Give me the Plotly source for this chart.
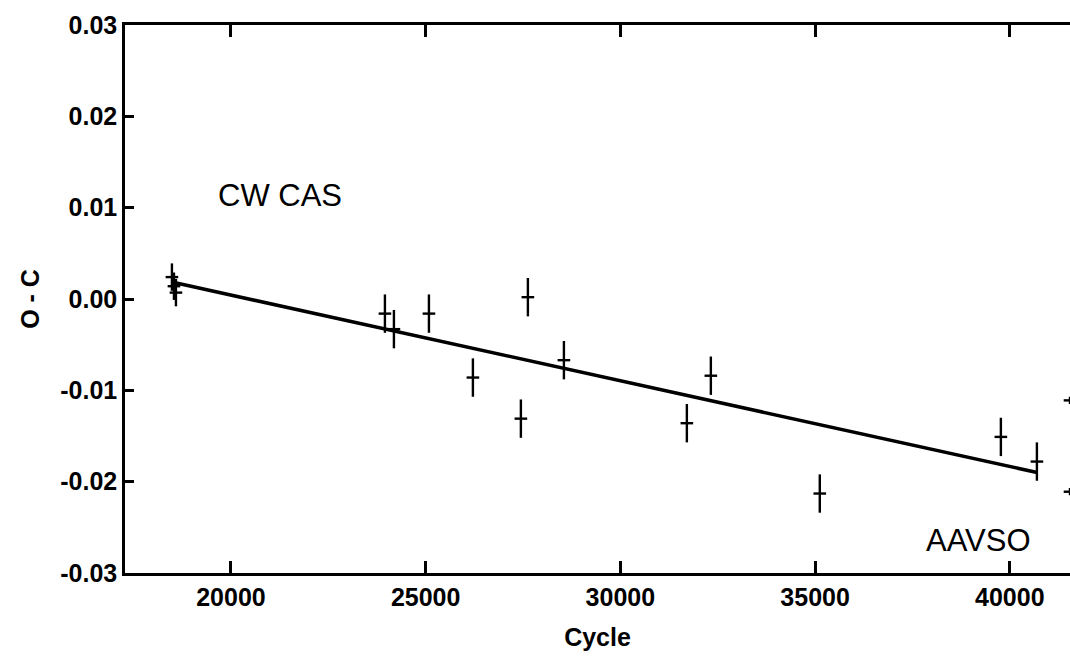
import plotly.graph_objects as go

# Data
cycle = [18485, 18537, 18588, 23954, 24185, 25084, 26213, 27445, 27625, 28550,
         31707, 32323, 35120, 39770, 40695, 41545, 41545]
o_c = [0.0024, 0.0014, 0.0007, -0.0016, -0.0033, -0.0016, -0.0086, -0.0131,
       0.0002, -0.0067, -0.0136, -0.0084, -0.0213, -0.0151, -0.0178, -0.0111, -0.0211]
err = [0.0015, 0.0015, 0.0015, 0.0021, 0.0021, 0.0021, 0.0021, 0.0021,
       0.0021, 0.0021, 0.0021, 0.0021, 0.0021, 0.0021, 0.0021, 0.0004, 0.0004]

fit_x = [18540, 40700]
fit_y = [0.0018, -0.0190]

x_ticks = [20000, 25000, 30000, 35000, 40000]
y_ticks = [-0.03, -0.02, -0.01, 0.0, 0.01, 0.02, 0.03]
y_labels = ["-0.03", "-0.02", "-0.01", "0.00", "0.01", "0.02", "0.03"]

L, R, T, B = 125, 0, 25, 87
W, H = 1070, 660
pw, ph = W - L - R, H - T - B

fig = go.Figure()
fig.add_trace(go.Scatter(x=fit_x, y=fit_y, mode="lines",
                         line=dict(color="black", width=3.5), showlegend=False))
fig.add_trace(go.Scatter(
    x=cycle, y=o_c, mode="markers",
    marker=dict(symbol="line-ew", size=9, line=dict(color="black", width=2.4)),
    error_y=dict(type="data", array=err, visible=True, color="black",
                 thickness=2.4, width=0),
    showlegend=False))

annfont = dict(family="Liberation Sans", size=31, color="black")
for txt, px, py in [("CW CAS", 280, 195), ("AAVSO", 978, 540)]:
    fig.add_annotation(x=(px - L) / pw, y=1 - (py - T) / ph,
                       xref="paper", yref="paper", text=txt, showarrow=False,
                       xanchor="center", yanchor="middle", font=annfont)

tickfont = dict(family="Liberation Sans", size=25, color="black", weight="bold")
titlefont = dict(family="Liberation Sans", size=25, color="black", weight="bold")
fig.update_layout(
    width=W, height=H,
    margin=dict(l=L, r=R, t=T, b=B),
    plot_bgcolor="white", paper_bgcolor="white",
    xaxis=dict(range=[17280, 41545], tickvals=x_ticks,
               ticktext=[str(v) for v in x_ticks],
               ticks="inside", ticklen=12, tickwidth=2.5, tickcolor="black",
               showline=True, linecolor="black", linewidth=2.5, mirror="ticks",
               showgrid=False, zeroline=False, tickfont=tickfont,
               title=dict(text="Cycle", font=titlefont, standoff=19)),
    yaxis=dict(range=[-0.03, 0.03], tickvals=y_ticks, ticktext=y_labels,
               ticks="inside", ticklen=9, tickwidth=2.5, tickcolor="black",
               showline=True, linecolor="black", linewidth=2.5, mirror=False,
               showgrid=False, zeroline=False, tickfont=tickfont,
               title=dict(text="O - C", font=titlefont, standoff=14)),
)
fig.write_html("out.html", config={"displayModeBar": False},
               post_script="document.body.style.margin='0px';document.body.style.overflow='hidden';")
